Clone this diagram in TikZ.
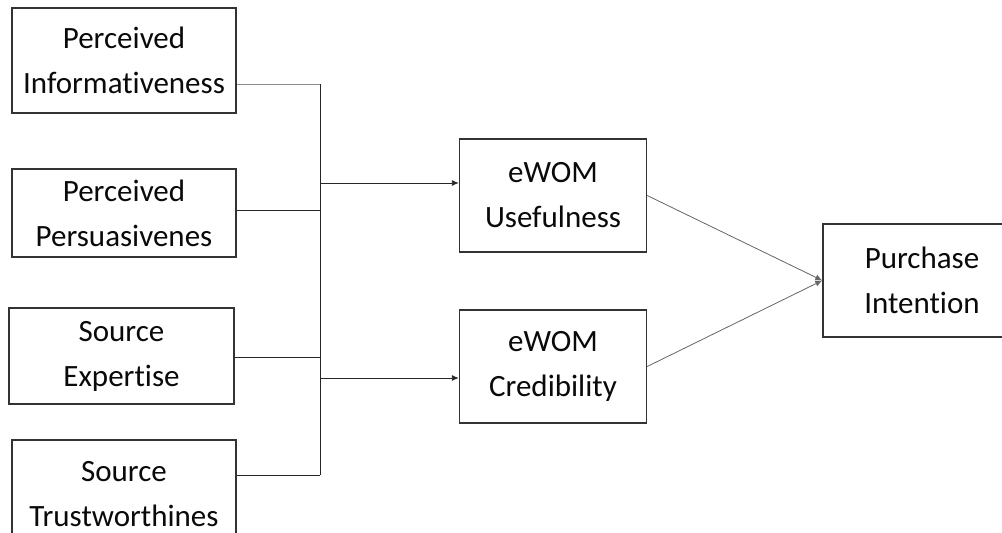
\documentclass[tikz,border=0pt]{standalone}
\usepackage{fontspec}
\setmainfont{Carlito}[Ligatures=NoCommon]
\usetikzlibrary{arrows.meta}
\definecolor{boxline}{HTML}{333333}
\definecolor{txt}{HTML}{0A0A0A}
\tikzset{
  box/.style={draw=boxline, line width=1.4pt, fill=white, inner sep=0pt, align=center,
    text=txt, font=\fontsize{31}{45}\selectfont},
  wire/.style={draw=black!85, line width=0.9pt},
  lightwire/.style={draw=black!45, line width=0.9pt},
  arr/.style={wire, -{Latex[length=7pt,width=6pt]}},
  diag/.style={draw=black!60, line width=0.8pt, -{Latex[length=7pt,width=6pt]}},
}
\begin{document}
\begin{tikzpicture}[x=1pt,y=-1pt]
\useasboundingbox (0,0) rectangle (1002,533);
\clip (0,0) rectangle (1002,533);
\fill[white] (0,0) rectangle (1002,533);

\node[box, minimum width=224pt, minimum height=105pt] (pi) at (124,60.5) {Perceived\\Informativeness};
\node[box, minimum width=224pt, minimum height=88pt] (pp) at (124,213) {Perceived\\Persuasivenes};
\node[box, minimum width=225pt, minimum height=96pt] (se) at (121.5,356) {Source\\Expertise};
\node[box, minimum width=224pt, minimum height=108pt] (st) at (124,494) {Source\\Trustworthines};

\node[box, minimum width=187pt, minimum height=113pt] (use) at (553,195.5) {eWOM\\Usefulness};
\node[box, minimum width=187pt, minimum height=113pt] (cred) at (553,366.5) {eWOM\\Credibility};
\node[box, minimum width=198pt, minimum height=113pt] (pur) at (922,280.5) {Purchase\\Intention};

\coordinate (s1) at (320,84);
\coordinate (s2) at (320,210);
\coordinate (s3) at (320,357);
\coordinate (s4) at (320,475);
\coordinate (j1) at (320,183);
\coordinate (j2) at (320,378);

\draw[lightwire] (pi.east |- s1) -- (s1);
\draw[wire] (pp.east |- s2) -- (s2);
\draw[wire] (se.east |- s3) -- (s3);
\draw[wire] (st.east |- s4) -- (s4);
\draw[wire] (s1) -- (s4);

\draw[arr] (j1) -- (use.west |- j1);
\draw[arr] (j2) -- (cred.west |- j2);

\draw[diag] (use.east) -- (pur.west);
\draw[diag] (cred.east) -- (pur.west);
\end{tikzpicture}
\end{document}
